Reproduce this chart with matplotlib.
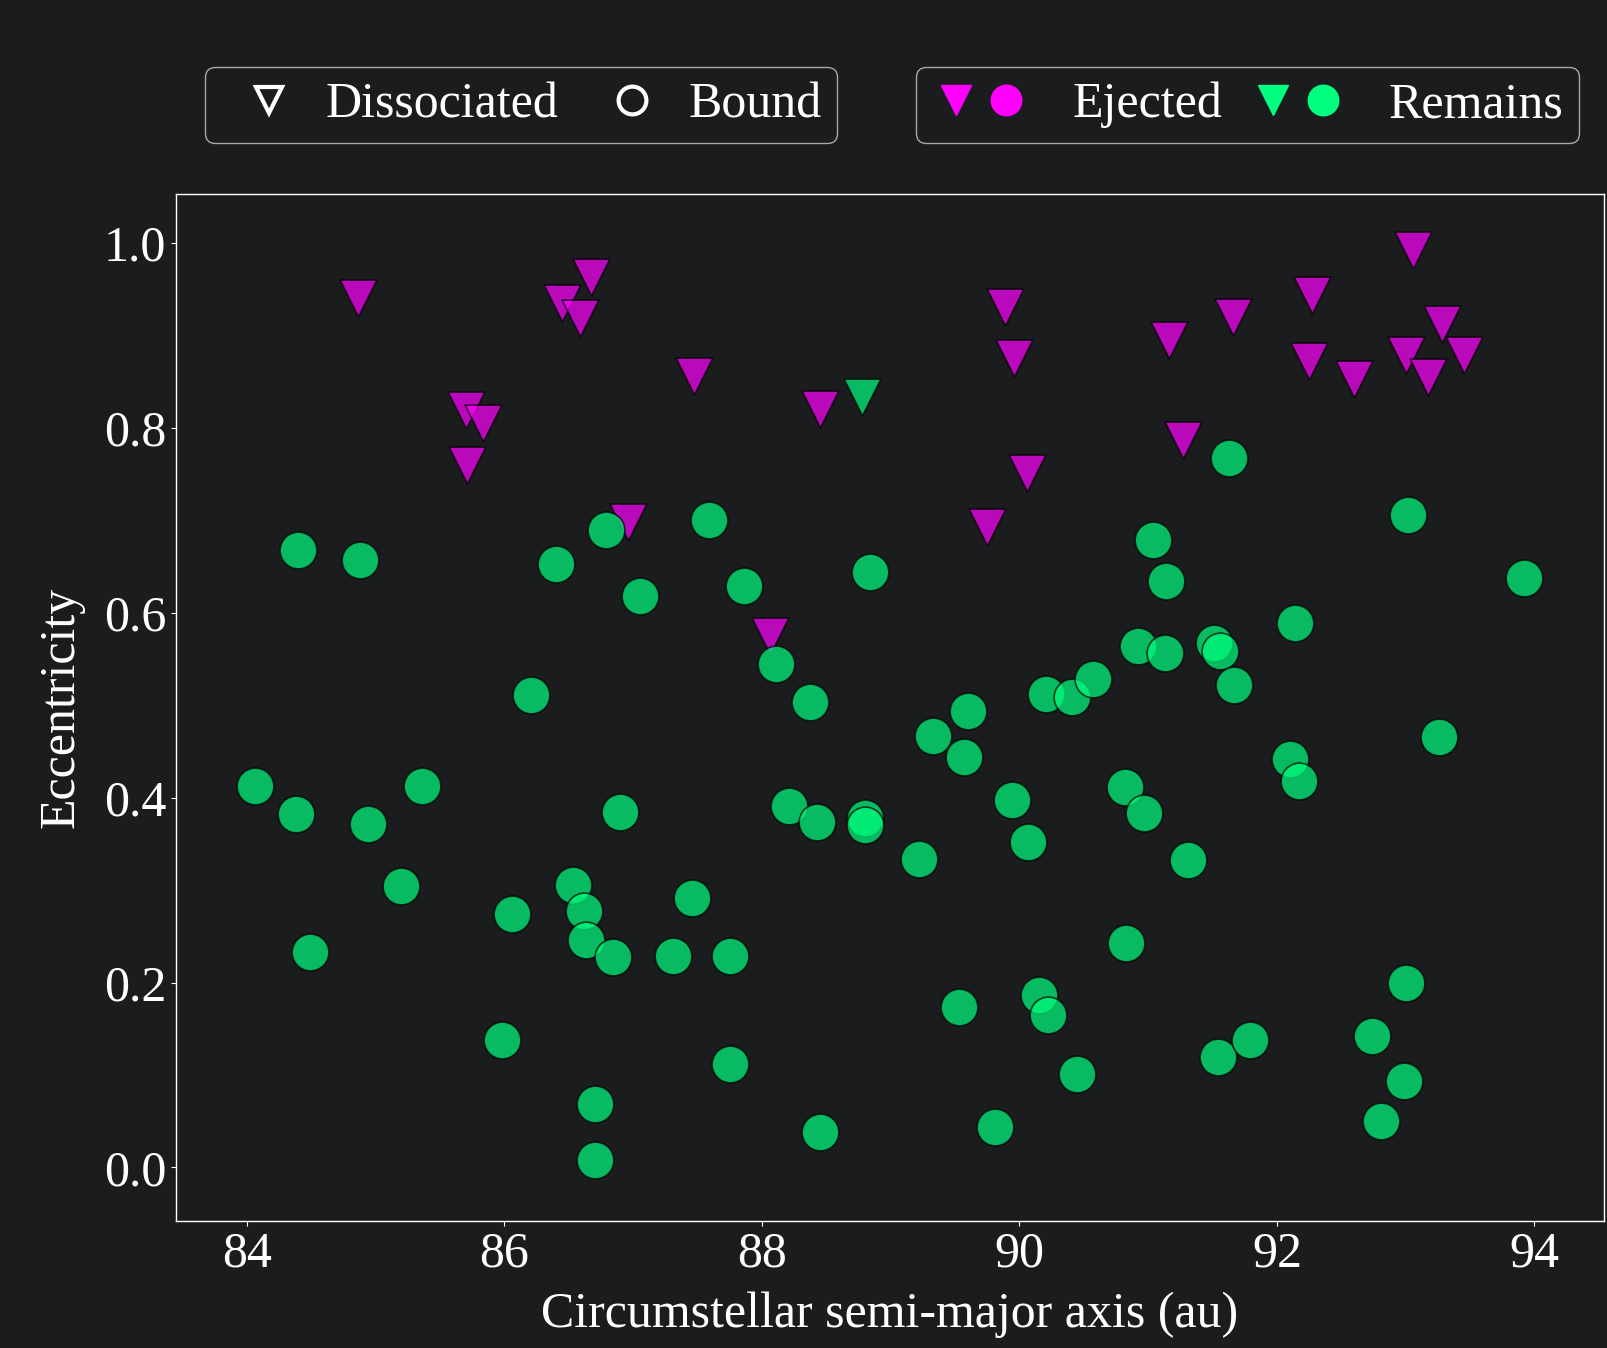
import matplotlib
matplotlib.use("Agg")
import matplotlib.pyplot as plt
from matplotlib.lines import Line2D
from matplotlib.legend_handler import HandlerTuple

# ejected planets that dissociated from their host
a_ej_diss = [84.86, 85.70, 85.83, 85.71, 86.45, 86.67, 86.59, 87.47, 86.96, 88.06,
             88.45, 89.89, 89.96, 90.06, 89.75, 91.16, 91.27, 91.66, 92.27, 92.25,
             92.60, 93.00, 93.06, 93.28, 93.45, 93.17]
e_ej_diss = [0.941, 0.819, 0.805, 0.760, 0.935, 0.963, 0.919, 0.856, 0.698, 0.575,
             0.821, 0.931, 0.876, 0.751, 0.693, 0.895, 0.787, 0.920, 0.944, 0.872,
             0.853, 0.879, 0.992, 0.912, 0.879, 0.855]

# remaining planets, dissociated
a_rem_diss = [88.78]
e_rem_diss = [0.834]

# remaining planets, still bound
a_rem_bound = [84.06, 84.40, 84.38, 84.49, 84.88, 84.94, 85.36, 85.20, 85.98, 86.06,
               86.21, 86.40, 86.53, 86.62, 86.63, 86.79, 86.84, 86.70, 86.70, 86.90,
               87.05, 87.31, 87.46, 87.59, 87.75, 87.75, 87.86, 88.11, 88.21, 88.37,
               88.43, 88.45, 88.80, 88.80, 88.84, 89.22, 89.33, 89.53, 89.57, 89.60,
               89.81, 89.94, 90.07, 90.15, 90.22, 90.21, 90.41, 90.57, 90.45, 90.83,
               90.82, 90.97, 90.92, 91.04, 91.14, 91.13, 91.31, 91.51, 91.56, 91.67,
               91.54, 91.63, 91.79, 92.10, 92.14, 92.17, 92.74, 92.81, 93.00, 92.99,
               93.02, 93.26, 93.92]
e_rem_bound = [0.413, 0.668, 0.382, 0.233, 0.657, 0.371, 0.413, 0.304, 0.138, 0.274,
               0.511, 0.653, 0.305, 0.277, 0.246, 0.690, 0.228, 0.069, 0.008, 0.384,
               0.618, 0.229, 0.291, 0.700, 0.229, 0.112, 0.629, 0.545, 0.391, 0.504,
               0.374, 0.038, 0.378, 0.370, 0.644, 0.334, 0.467, 0.174, 0.444, 0.494,
               0.044, 0.398, 0.352, 0.186, 0.165, 0.512, 0.509, 0.528, 0.101, 0.243,
               0.412, 0.383, 0.564, 0.679, 0.634, 0.557, 0.333, 0.567, 0.559, 0.522,
               0.119, 0.767, 0.138, 0.442, 0.589, 0.418, 0.142, 0.050, 0.199, 0.093,
               0.706, 0.466, 0.638]

bg = "#1b1c1e"
c_ej = "#ff00ff"
c_rem = "#00ff7f"

plt.style.use("dark_background")
plt.rcParams["font.family"] = ["Liberation Serif", "DejaVu Serif"]
plt.rcParams["font.size"] = 36

fig = plt.figure(figsize=(16.08, 13.48), dpi=100, facecolor=bg)
ax = fig.add_axes([0.1095, 0.0942, 0.888, 0.7618])
ax.set_facecolor(bg)

kw = dict(s=700, alpha=0.7, edgecolors="black", linewidths=1.2)
ax.scatter(a_ej_diss, e_ej_diss, marker="v", c=c_ej, **kw)
ax.scatter(a_rem_diss, e_rem_diss, marker="v", c=c_rem, **kw)
ax.scatter(a_rem_bound, e_rem_bound, marker="o", c=c_rem, **kw)

ax.set_xlim(83.45, 94.54)
ax.set_ylim(-0.058, 1.053)
ax.set_xticks([84, 86, 88, 90, 92, 94])
ax.set_yticks([0.0, 0.2, 0.4, 0.6, 0.8, 1.0])
ax.set_yticklabels(["0.0", "0.2", "0.4", "0.6", "0.8", "1.0"])
ax.set_xlabel("Circumstellar semi-major axis (au)", labelpad=10)
ax.set_ylabel("Eccentricity", labelpad=14)
for sp in ax.spines.values():
    sp.set_color("white")
    sp.set_linewidth(1.0)

# marker-shape legend
shape_handles = [
    Line2D([], [], ls="none", marker="v", ms=19, mfc="none", mec="white", mew=3),
    Line2D([], [], ls="none", marker="o", ms=20, mfc="none", mec="white", mew=3),
]
leg1 = fig.legend(shape_handles, ["Dissociated", "Bound"], ncol=2,
                  loc="upper left", bbox_to_anchor=(0.1275, 0.9503),
                  borderaxespad=0, facecolor=bg, handlelength=1.96,
                  handletextpad=0.16, columnspacing=0.48, borderpad=0.3)

# colour legend
col_handles = [
    (Line2D([], [], ls="none", marker="v", ms=22, color=c_ej),
     Line2D([], [], ls="none", marker="o", ms=22, color=c_ej)),
    (Line2D([], [], ls="none", marker="v", ms=22, color=c_rem),
     Line2D([], [], ls="none", marker="o", ms=22, color=c_rem)),
]
leg2 = fig.legend(col_handles, ["Ejected", "Remains"], ncol=2,
                  loc="upper left", bbox_to_anchor=(0.5697, 0.9503),
                  borderaxespad=0, facecolor=bg, handlelength=2.0,
                  handletextpad=0.82, columnspacing=0.52, borderpad=0.3,
                  handler_map={tuple: HandlerTuple(ndivide=None, pad=0)})

fig.savefig("out.png", dpi=100, facecolor=bg)
